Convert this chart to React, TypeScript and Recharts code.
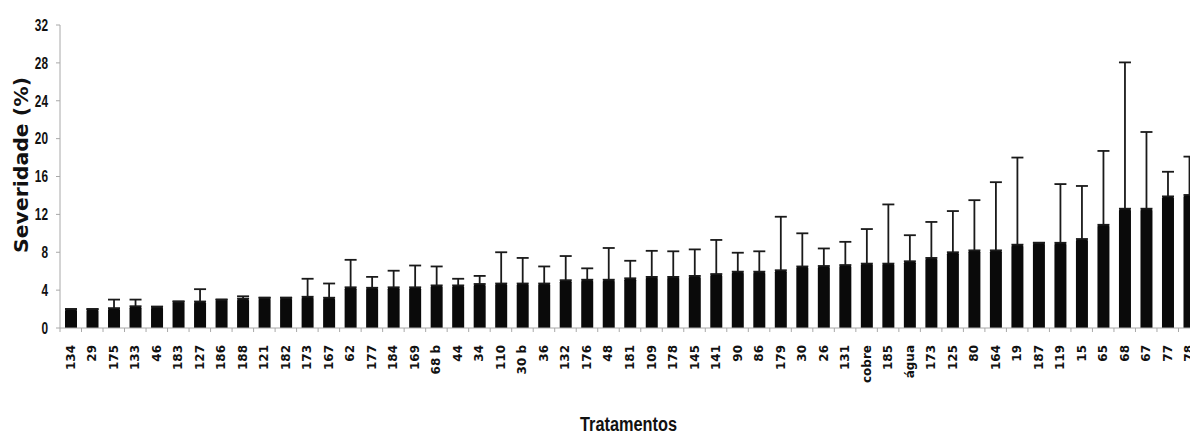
import { BarChart, Bar, XAxis, YAxis, ErrorBar, Label } from "recharts";

// Tratamentos, ordenados pela severidade média
const tratamentos = [
  "134", "29", "175", "133", "46", "183", "127", "186", "188", "121", "182", "173", "167",
  "62", "177", "184", "169", "68 b", "44", "34", "110", "30 b", "36", "132", "176", "48", "181",
  "109", "178", "145", "141", "90", "86", "179", "30", "26", "131", "cobre", "185", "água",
  "173", "125", "80", "164", "19", "187", "119", "15", "65", "68", "67", "77", "78",
];

// Severidade média (%)
const severidade = [
  2.0, 2.0, 2.1, 2.3, 2.25, 2.8, 2.8, 3.0, 3.1, 3.2, 3.2, 3.3, 3.2,
  4.3, 4.25, 4.3, 4.3, 4.5, 4.5, 4.65, 4.7, 4.7, 4.7, 5.05, 5.1, 5.1, 5.25,
  5.4, 5.4, 5.5, 5.7, 5.95, 5.95, 6.1, 6.5, 6.55, 6.65, 6.8, 6.8, 7.05,
  7.4, 8.0, 8.2, 8.2, 8.8, 9.0, 9.0, 9.4, 10.9, 12.6, 12.6, 13.9, 14.05,
];

// Desvio padrão (só a barra superior é desenhada)
const desvio = [
  0, 0, 0.9, 0.7, 0, 0, 1.3, 0, 0.25, 0, 0, 1.9, 1.5,
  2.9, 1.15, 1.75, 2.3, 2.0, 0.7, 0.85, 3.3, 2.7, 1.8, 2.55, 1.2, 3.35, 1.85,
  2.75, 2.7, 2.8, 3.6, 2.0, 2.15, 5.65, 3.5, 1.85, 2.45, 3.65, 6.25, 2.75,
  3.8, 4.35, 5.3, 7.2, 9.2, 0, 6.2, 5.6, 7.8, 15.45, 8.1, 2.6, 4.05,
];

const yTicks = [0, 4, 8, 12, 16, 20, 24, 28, 32];

const data = tratamentos.map((nome, i) => ({
  nome,
  severidade: severidade[i],
  desvio: [0, desvio[i]],
}));

const CHART_W = 1200;
const LEFT = 60;
const BAND = (CHART_W - LEFT) / tratamentos.length;
const AXIS_GRAY = "#a8a8a8";
const NARROW = "'Liberation Sans', Arial, sans-serif";

function TreatmentTick(props: any) {
  const { x, y, payload } = props;
  return (
    <g>
      <line x1={x - BAND / 2} x2={x - BAND / 2} y1={y} y2={y + 4} stroke={AXIS_GRAY} strokeWidth={1} />
      <text
        transform={`translate(${x},${y + 17}) rotate(-90)`}
        textAnchor="end"
        dominantBaseline="central"
        fontFamily="'DejaVu Sans', Verdana, sans-serif"
        fontWeight="bold"
        fontSize={12}
        fill="#111"
      >
        {payload.value}
      </text>
    </g>
  );
}

// condensed bold numbers on the value axis
function SeverityTick(props: any) {
  const { x, y, payload } = props;
  return (
    <text
      transform={`translate(${x},${y}) scale(0.74,1)`}
      textAnchor="end"
      dy="0.36em"
      fontFamily={NARROW}
      fontWeight="bold"
      fontSize={16}
      fill="#111"
    >
      {payload.value}
    </text>
  );
}

export default function App() {
  return (
    <div
      style={{
        position: "fixed",
        left: 0,
        top: 0,
        width: 1190,
        height: 435,
        overflow: "hidden",
        background: "#fff",
      }}
    >
      <BarChart
        width={CHART_W}
        height={435}
        data={data}
        margin={{ top: 25, right: 0, left: 0, bottom: 0 }}
      >
        <XAxis
          dataKey="nome"
          height={107}
          interval={0}
          tickSize={0}
          tickMargin={0}
          tickLine={false}
          axisLine={{ stroke: AXIS_GRAY, strokeWidth: 1 }}
          tick={<TreatmentTick />}
        >
          <Label
            content={() => (
              <text
                x={580}
                y={431}
                textLength={97}
                lengthAdjust="spacingAndGlyphs"
                fontFamily={NARROW}
                fontWeight="bold"
                fontSize={20}
                fill="#111"
              >
                Tratamentos
              </text>
            )}
          />
        </XAxis>
        <YAxis
          width={LEFT}
          domain={[0, 32]}
          ticks={yTicks}
          interval={0}
          tickSize={4}
          tickMargin={8}
          axisLine={{ stroke: AXIS_GRAY, strokeWidth: 1 }}
          tickLine={{ stroke: AXIS_GRAY, strokeWidth: 1 }}
          tick={<SeverityTick />}
        >
          <Label
            content={() => (
              <text
                transform="translate(28,253) rotate(-90)"
                textLength={176}
                lengthAdjust="spacingAndGlyphs"
                fontFamily="'DejaVu Sans', Verdana, sans-serif"
                fontWeight="bold"
                fontSize={19}
                fill="#111"
              >
                Severidade (%)
              </text>
            )}
          />
        </YAxis>
        <Bar
          dataKey="severidade"
          fill="#0a0a0a"
          barSize={12}
          radius={[2, 2, 0, 0]}
          isAnimationActive={false}
        >
          <ErrorBar
            dataKey="desvio"
            direction="y"
            width={6}
            stroke="#1a1a1a"
            strokeWidth={1.8}
            isAnimationActive={false}
          />
        </Bar>
      </BarChart>
    </div>
  );
}
